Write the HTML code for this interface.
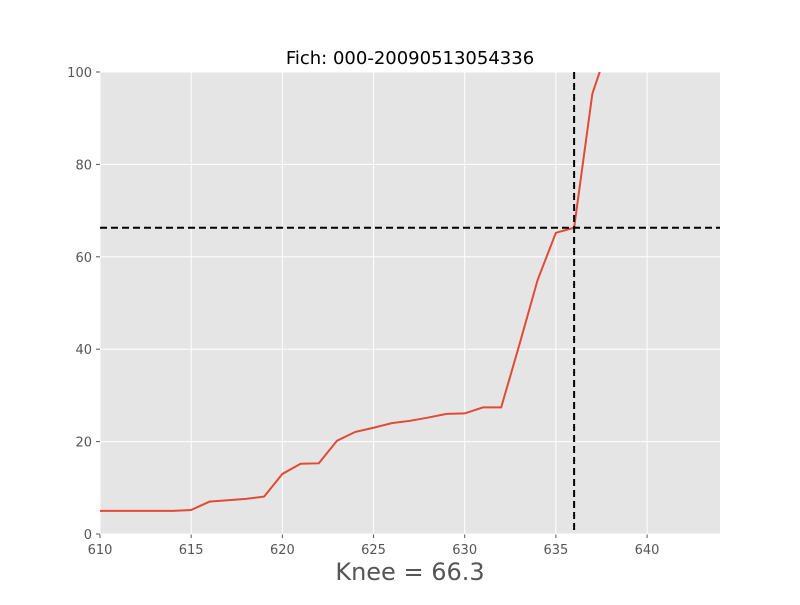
<!DOCTYPE html>
<html><head><meta charset="utf-8"><style>
body{margin:0;background:#fff;}
svg text{font-family:"DejaVu Sans","Liberation Sans",sans-serif;}
</style></head><body>
<svg id="chart" width="800" height="600"></svg>
<script>
const xTicks=[610,615,620,625,630,635,640];
const yTicks=[0,20,40,60,80,100];
const xs=[610,611,612,613,614,615,616,617,618,619,620,621,622,623,624,625,626,627,628,629,630,631,632,633,634,635,636,637,638];
const ys=[5,5,5,5,5,5.2,7,7.3,7.6,8.1,13,15.2,15.3,20.2,22.1,23,24,24.5,25.2,26,26.1,27.4,27.4,41,55,65.2,66.3,95.3,107];
const kneeX=636, kneeY=66.3;
const L=100,R=720,T=72,B=534,xmin=610,xmax=644,ymin=0,ymax=100;
const X=v=>L+(v-xmin)/(xmax-xmin)*(R-L);
const Y=v=>B-(v-ymin)/(ymax-ymin)*(B-T);
const NS="http://www.w3.org/2000/svg";
const svg=document.getElementById('chart');
function mk(tag,attrs,parent){const e=document.createElementNS(NS,tag);for(const k in attrs)e.setAttribute(k,attrs[k]);(parent||svg).appendChild(e);return e;}
const bg=mk('rect',{x:L,y:T,width:R-L,height:B-T,fill:'#e5e5e5'});


const defs=mk('defs',{});
const cp=mk('clipPath',{id:'clip'},defs);
mk('rect',{x:L,y:T,width:R-L,height:B-T},cp);
xTicks.forEach(t=>{
  const g=mk('line',{x1:X(t),x2:X(t),y1:T,y2:B,stroke:'#fff','stroke-width':1});
  
  
  mk('line',{x1:X(t),x2:X(t),y1:B,y2:B+4,stroke:'#555'});
  const tx=mk('text',{x:X(t),y:B+20,'text-anchor':'middle','font-size':13,fill:'#555'});
  tx.textContent=t;
  
  
});
yTicks.forEach(t=>{
  const g=mk('line',{x1:L,x2:R,y1:Y(t),y2:Y(t),stroke:'#fff','stroke-width':1});
  
  
  mk('line',{x1:L-4,x2:L,y1:Y(t),y2:Y(t),stroke:'#555'});
  const tx=mk('text',{x:L-8,y:Y(t)+5,'text-anchor':'end','font-size':13,fill:'#555'});
  tx.textContent=t;
  
  
});
const line=mk('polyline',{points:xs.map((x,i)=>X(x)+','+Y(ys[i])).join(' '),fill:'none',stroke:'#e24a33','stroke-width':2,'clip-path':'url(#clip)'});


const hl=mk('line',{x1:L,x2:R,y1:Y(kneeY),y2:Y(kneeY),stroke:'#000','stroke-width':2,'stroke-dasharray':'7,4'});


const vl=mk('line',{x1:X(kneeX),x2:X(kneeX),y1:T,y2:B,stroke:'#000','stroke-width':2,'stroke-dasharray':'7,4'});


const title=mk('text',{x:410,y:64,'text-anchor':'middle','font-size':18,fill:'#000'});
title.textContent='Fich: 000-20090513054336';


const xl=mk('text',{x:410,y:580,'text-anchor':'middle','font-size':24,fill:'#555'});
xl.textContent='Knee = 66.3';


</script>
</body></html>
